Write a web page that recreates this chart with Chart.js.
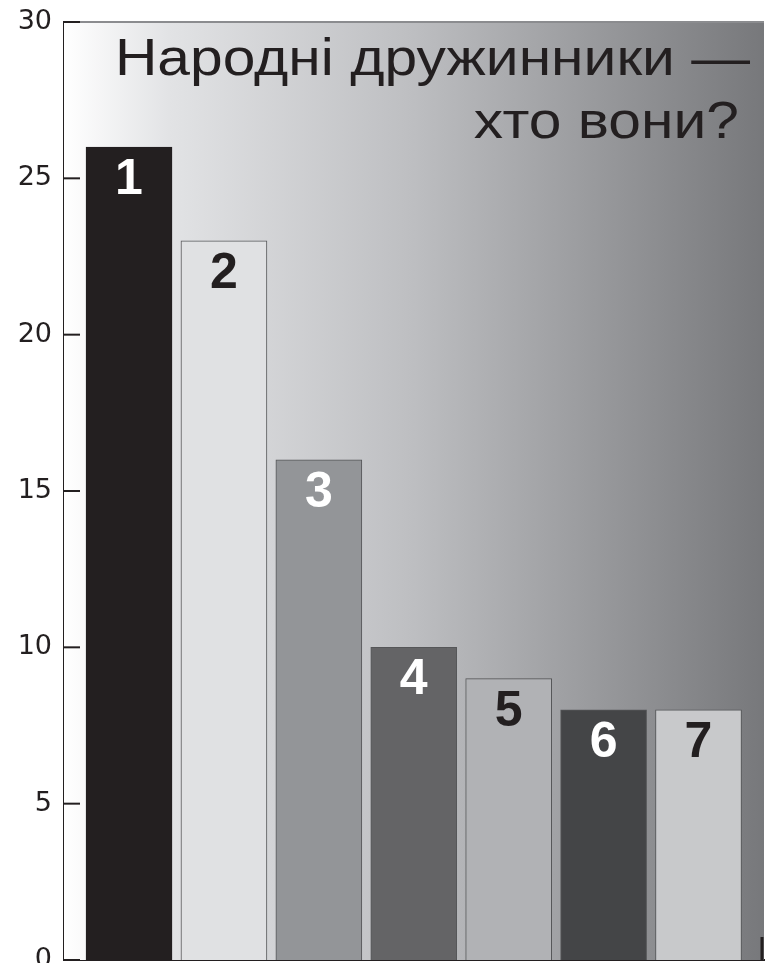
<!DOCTYPE html>
<html>
<head>
<meta charset="utf-8">
<script src="https://cdn.jsdelivr.net/npm/chart.js@4"></script>
<style>
  html, body { margin: 0; padding: 0; background: #fff; overflow: hidden; }
  canvas { display: block; }
</style>
</head>
<body>
<canvas id="chart" width="774" height="963"></canvas>
<script>
// Дані діаграми
const categories = ["1", "2", "3", "4", "5", "6", "7"];
const values = [26, 23, 16, 10, 9, 8, 8];
const barColors = ["#231f20", "#e0e1e3", "#939598", "#646466", "#b1b2b5", "#444547", "#c8c9cb"];
const labelColors = ["#ffffff", "#231f20", "#ffffff", "#ffffff", "#231f20", "#ffffff", "#231f20"];
const yTicks = [0, 5, 10, 15, 20, 25, 30];
const titleLines = ["Народні дружинники —", "хто вони?"];

const FONT = "'Liberation Sans', Arial, sans-serif";
const INK = "#231f20";

// Фон з градієнтом, рамка та внутрішні риски
const decor = {
    id: "decor",
    beforeDatasetsDraw(chart) {
        const { ctx, chartArea: a } = chart;
        const g = ctx.createLinearGradient(a.left, 0, a.right, 0);
        g.addColorStop(0, "#ffffff");
        g.addColorStop(0.15, "#e2e3e5");
        g.addColorStop(0.5, "#bdbec1");
        g.addColorStop(1, "#77787b");
        ctx.save();
        ctx.fillStyle = g;
        ctx.fillRect(a.left, a.top, a.right - a.left, a.bottom - a.top);
        // верхня лінія
        ctx.strokeStyle = "#8b8c8f";
        ctx.lineWidth = 2;
        ctx.beginPath();
        ctx.moveTo(a.left, a.top);
        ctx.lineTo(a.right, a.top);
        ctx.stroke();
        ctx.restore();
    },
    afterDatasetsDraw(chart) {
        const { ctx, chartArea: a } = chart;
        const y = chart.scales.y;
        ctx.save();
        // риски осі Y всередину
        ctx.strokeStyle = INK;
        ctx.lineWidth = 2;
        yTicks.forEach(v => {
            const py = y.getPixelForValue(v);
            ctx.beginPath();
            ctx.moveTo(a.left, py);
            ctx.lineTo(a.left + 16, py);
            ctx.stroke();
        });
        // риска праворуч внизу
        ctx.lineWidth = 3;
        ctx.beginPath();
        ctx.moveTo(a.right - 2, a.bottom);
        ctx.lineTo(a.right - 2, a.bottom - 23);
        ctx.stroke();

        // номери на стовпчиках
        const meta = chart.getDatasetMeta(0);
        ctx.font = "bold 50px " + FONT;
        ctx.textAlign = "center";
        ctx.textBaseline = "alphabetic";
        meta.data.forEach((bar, i) => {
            ctx.fillStyle = labelColors[i];
            ctx.fillText(categories[i], bar.x, bar.y + 47);
        });

        // заголовок (шрифт трохи розширений)
        ctx.font = "52px " + FONT;
        ctx.fillStyle = INK;
        ctx.textAlign = "right";
        [[750, 75], [739, 138]].forEach((p, i) => {
            ctx.save();
            ctx.translate(p[0], p[1]);
            ctx.scale(1.13, 1);
            ctx.fillText(titleLines[i], 0, 0);
            ctx.restore();
        });
        ctx.restore();
    }
};

const ctx = document.getElementById("chart").getContext("2d");
new Chart(ctx, {
    type: "bar",
    data: {
        datasets: [{
            data: categories.map((c, i) => ({ x: i, y: values[i] })),
            backgroundColor: barColors,
            borderColor: barColors.map((c, i) => i === 0 ? INK : "#555658"),
            borderWidth: 1,
            barThickness: 86
        }]
    },
    options: {
        responsive: false,
        devicePixelRatio: 1,
        animation: false,
        layout: { padding: { top: 22, right: 10, bottom: 3, left: 0 } },
        plugins: {
            legend: { display: false },
            tooltip: { enabled: false }
        },
        scales: {
            x: {
                type: "linear",
                offset: false,
                min: -0.685,
                max: 6.69,
                ticks: { display: false },
                grid: { display: false, drawTicks: false },
                border: { display: true, color: INK, width: 2 }
            },
            y: {
                min: 0,
                max: 30,
                afterBuildTicks(scale) {
                    scale.ticks = yTicks.map(v => ({ value: v }));
                },
                afterFit(scale) {
                    scale.width = 64;
                    scale.paddingTop = 0;
                    scale.paddingBottom = 0;
                },
                ticks: {
                    color: INK,
                    padding: 12,
                    font: { family: "'DejaVu Sans', sans-serif", size: 27 }
                },
                grid: { display: false, drawTicks: false },
                border: { display: true, color: INK, width: 3 }
            }
        }
    },
    plugins: [decor]
});
</script>
</body>
</html>
